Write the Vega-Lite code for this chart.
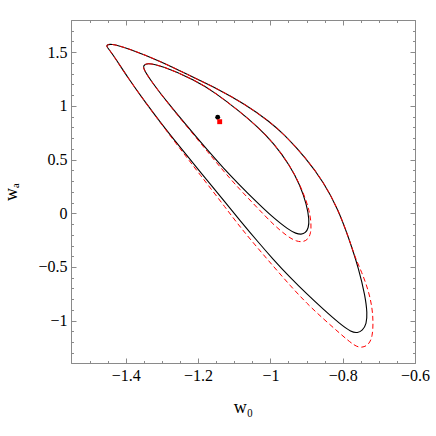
{
  "$schema": "https://vega.github.io/schema/vega-lite/v6.json",
  "width": 344,
  "height": 343,
  "autosize": {"type": "none"},
  "padding": {"left": 71, "top": 20, "right": 21, "bottom": 73},
  "background": "white",
  "config": {
    "view": {"stroke": "#8a8a8a", "strokeWidth": 1},
    "axis": {
      "domainColor": "#8a8a8a",
      "tickColor": "#8a8a8a",
      "grid": false,
      "labelFont": "Liberation Serif",
      "labelFontSize": 16,
      "labelColor": "black",
      "titleFont": "Liberation Serif",
      "titleFontSize": 18,
      "titleFontWeight": "normal",
      "titleColor": "black"
    }
  },
  "datasets": {
    "curves": [
      {"c": "ob", "i": 1, "x": -1.4539, "y": 1.5624},
      {"c": "ob", "i": 2, "x": -1.4437, "y": 1.5829},
      {"c": "ob", "i": 3, "x": -1.3931, "y": 1.5363},
      {"c": "ob", "i": 4, "x": -1.3007, "y": 1.4115},
      {"c": "ob", "i": 5, "x": -1.2086, "y": 1.2570},
      {"c": "ob", "i": 6, "x": -1.1533, "y": 1.1713},
      {"c": "ob", "i": 7, "x": -1.0703, "y": 1.0177},
      {"c": "ob", "i": 8, "x": -1.0011, "y": 0.8501},
      {"c": "ob", "i": 9, "x": -0.9624, "y": 0.7356},
      {"c": "ob", "i": 10, "x": -0.9015, "y": 0.5149},
      {"c": "ob", "i": 11, "x": -0.8531, "y": 0.2914},
      {"c": "ob", "i": 12, "x": -0.8130, "y": 0.0400},
      {"c": "ob", "i": 13, "x": -0.7826, "y": -0.2346},
      {"c": "ob", "i": 14, "x": -0.7549, "y": -0.5233},
      {"c": "ob", "i": 15, "x": -0.7375, "y": -0.7765},
      {"c": "ob", "i": 16, "x": -0.7320, "y": -0.9311},
      {"c": "ob", "i": 17, "x": -0.7342, "y": -1.0307},
      {"c": "ob", "i": 18, "x": -0.7452, "y": -1.0912},
      {"c": "ob", "i": 19, "x": -0.7591, "y": -1.1145},
      {"c": "ob", "i": 20, "x": -0.7757, "y": -1.1080},
      {"c": "ob", "i": 21, "x": -0.8075, "y": -1.0307},
      {"c": "ob", "i": 22, "x": -0.8537, "y": -0.8939},
      {"c": "ob", "i": 23, "x": -0.8996, "y": -0.7505},
      {"c": "ob", "i": 24, "x": -0.9458, "y": -0.5968},
      {"c": "ob", "i": 25, "x": -0.9920, "y": -0.4302},
      {"c": "ob", "i": 26, "x": -1.0379, "y": -0.2523},
      {"c": "ob", "i": 27, "x": -1.0841, "y": -0.0661},
      {"c": "ob", "i": 28, "x": -1.1209, "y": 0.0847},
      {"c": "ob", "i": 29, "x": -1.1948, "y": 0.3883},
      {"c": "ob", "i": 30, "x": -1.2548, "y": 0.6369},
      {"c": "ob", "i": 31, "x": -1.3007, "y": 0.8315},
      {"c": "ob", "i": 32, "x": -1.3469, "y": 1.0382},
      {"c": "ob", "i": 33, "x": -1.3931, "y": 1.2561},
      {"c": "ob", "i": 34, "x": -1.4390, "y": 1.4953},
      {"c": "ob", "i": 35, "x": -1.4520, "y": 1.5484},

      {"c": "or", "i": 1, "x": -1.4539, "y": 1.5624},
      {"c": "or", "i": 2, "x": -1.4437, "y": 1.5829},
      {"c": "or", "i": 3, "x": -1.3931, "y": 1.5363},
      {"c": "or", "i": 4, "x": -1.3007, "y": 1.4115},
      {"c": "or", "i": 5, "x": -1.2086, "y": 1.2570},
      {"c": "or", "i": 6, "x": -1.1533, "y": 1.1713},
      {"c": "or", "i": 7, "x": -1.0703, "y": 1.0177},
      {"c": "or", "i": 8, "x": -1.0011, "y": 0.8501},
      {"c": "or", "i": 9, "x": -0.9624, "y": 0.7356},
      {"c": "or", "i": 10, "x": -0.9015, "y": 0.5149},
      {"c": "or", "i": 11, "x": -0.8531, "y": 0.2914},
      {"c": "or", "i": 12, "x": -0.8130, "y": 0.0400},
      {"c": "or", "i": 13, "x": -0.7826, "y": -0.2346},
      {"c": "or", "i": 14, "x": -0.7674, "y": -0.3976},
      {"c": "or", "i": 15, "x": -0.7474, "y": -0.5472},
      {"c": "or", "i": 16, "x": -0.7300, "y": -0.7062},
      {"c": "or", "i": 17, "x": -0.7189, "y": -0.8638},
      {"c": "or", "i": 18, "x": -0.7154, "y": -1.0121},
      {"c": "or", "i": 19, "x": -0.7176, "y": -1.1518},
      {"c": "or", "i": 20, "x": -0.7286, "y": -1.2263},
      {"c": "or", "i": 21, "x": -0.7466, "y": -1.2523},
      {"c": "or", "i": 22, "x": -0.7660, "y": -1.2402},
      {"c": "or", "i": 23, "x": -0.8075, "y": -1.1192},
      {"c": "or", "i": 24, "x": -0.8537, "y": -0.9823},
      {"c": "or", "i": 25, "x": -0.8996, "y": -0.8389},
      {"c": "or", "i": 26, "x": -0.9458, "y": -0.6713},
      {"c": "or", "i": 27, "x": -0.9920, "y": -0.4926},
      {"c": "or", "i": 28, "x": -1.0379, "y": -0.3128},
      {"c": "or", "i": 29, "x": -1.0841, "y": -0.1266},
      {"c": "or", "i": 30, "x": -1.1209, "y": 0.0382},
      {"c": "or", "i": 31, "x": -1.1948, "y": 0.3603},
      {"c": "or", "i": 32, "x": -1.2548, "y": 0.6229},
      {"c": "or", "i": 33, "x": -1.3007, "y": 0.8268},
      {"c": "or", "i": 34, "x": -1.3469, "y": 1.0382},
      {"c": "or", "i": 35, "x": -1.3931, "y": 1.2561},
      {"c": "or", "i": 36, "x": -1.4390, "y": 1.4953},
      {"c": "or", "i": 37, "x": -1.4520, "y": 1.5484},

      {"c": "ib", "i": 1, "x": -1.3524, "y": 1.3715},
      {"c": "ib", "i": 2, "x": -1.3422, "y": 1.4022},
      {"c": "ib", "i": 3, "x": -1.3007, "y": 1.3743},
      {"c": "ib", "i": 4, "x": -1.2086, "y": 1.2412},
      {"c": "ib", "i": 5, "x": -1.1533, "y": 1.1248},
      {"c": "ib", "i": 6, "x": -1.0841, "y": 0.9460},
      {"c": "ib", "i": 7, "x": -1.0379, "y": 0.8128},
      {"c": "ib", "i": 8, "x": -0.9920, "y": 0.6592},
      {"c": "ib", "i": 9, "x": -0.9458, "y": 0.4451},
      {"c": "ib", "i": 10, "x": -0.9181, "y": 0.2635},
      {"c": "ib", "i": 11, "x": -0.8996, "y": 0.0819},
      {"c": "ib", "i": 12, "x": -0.8924, "y": -0.0624},
      {"c": "ib", "i": 13, "x": -0.8946, "y": -0.1369},
      {"c": "ib", "i": 14, "x": -0.9029, "y": -0.1834},
      {"c": "ib", "i": 15, "x": -0.9148, "y": -0.1974},
      {"c": "ib", "i": 16, "x": -0.9292, "y": -0.1881},
      {"c": "ib", "i": 17, "x": -0.9485, "y": -0.1574},
      {"c": "ib", "i": 18, "x": -0.9970, "y": -0.0270},
      {"c": "ib", "i": 19, "x": -1.0379, "y": 0.1043},
      {"c": "ib", "i": 20, "x": -1.0841, "y": 0.2598},
      {"c": "ib", "i": 21, "x": -1.1303, "y": 0.4227},
      {"c": "ib", "i": 22, "x": -1.1718, "y": 0.5791},
      {"c": "ib", "i": 23, "x": -1.2271, "y": 0.7989},
      {"c": "ib", "i": 24, "x": -1.2824, "y": 1.0223},
      {"c": "ib", "i": 25, "x": -1.3284, "y": 1.2225},
      {"c": "ib", "i": 26, "x": -1.3502, "y": 1.3389},

      {"c": "ir", "i": 1, "x": -1.3524, "y": 1.3715},
      {"c": "ir", "i": 2, "x": -1.3422, "y": 1.4022},
      {"c": "ir", "i": 3, "x": -1.3007, "y": 1.3743},
      {"c": "ir", "i": 4, "x": -1.2086, "y": 1.2412},
      {"c": "ir", "i": 5, "x": -1.1533, "y": 1.1248},
      {"c": "ir", "i": 6, "x": -1.0841, "y": 0.9460},
      {"c": "ir", "i": 7, "x": -1.0379, "y": 0.8128},
      {"c": "ir", "i": 8, "x": -0.9920, "y": 0.6592},
      {"c": "ir", "i": 9, "x": -0.9458, "y": 0.4451},
      {"c": "ir", "i": 10, "x": -0.9181, "y": 0.2635},
      {"c": "ir", "i": 11, "x": -0.9015, "y": 0.1238},
      {"c": "ir", "i": 12, "x": -0.8932, "y": 0.0307},
      {"c": "ir", "i": 13, "x": -0.8871, "y": -0.0810},
      {"c": "ir", "i": 14, "x": -0.8877, "y": -0.1834},
      {"c": "ir", "i": 15, "x": -0.8960, "y": -0.2439},
      {"c": "ir", "i": 16, "x": -0.9098, "y": -0.2672},
      {"c": "ir", "i": 17, "x": -0.9272, "y": -0.2626},
      {"c": "ir", "i": 18, "x": -0.9513, "y": -0.2207},
      {"c": "ir", "i": 19, "x": -0.9920, "y": -0.1052},
      {"c": "ir", "i": 20, "x": -1.0379, "y": 0.0577},
      {"c": "ir", "i": 21, "x": -1.0841, "y": 0.2197},
      {"c": "ir", "i": 22, "x": -1.1303, "y": 0.3948},
      {"c": "ir", "i": 23, "x": -1.1718, "y": 0.5652},
      {"c": "ir", "i": 24, "x": -1.2271, "y": 0.7914},
      {"c": "ir", "i": 25, "x": -1.2824, "y": 1.0196},
      {"c": "ir", "i": 26, "x": -1.3284, "y": 1.2225},
      {"c": "ir", "i": 27, "x": -1.3502, "y": 1.3389}
    ],
    "points": [
      {"name": "black", "x": -1.1458, "y": 0.894},
      {"name": "red", "x": -1.1403, "y": 0.853}
    ]
  },
  "layer": [
    {
      "data": {"name": "curves"},
      "transform": [{"filter": "datum.c == 'ob' || datum.c == 'ib'"}],
      "mark": {"type": "line", "interpolate": "basis-closed", "color": "black", "strokeWidth": 1.1, "clip": true},
      "encoding": {
        "x": {
          "field": "x", "type": "quantitative",
          "scale": {"domain": [-1.5516, -0.6], "nice": false, "zero": false},
          "axis": {
            "orient": "bottom",
            "title": "w₀",
            "values": [-1.5, -1.45, -1.4, -1.35, -1.3, -1.25, -1.2, -1.15, -1.1, -1.05, -1.0, -0.95, -0.9, -0.85, -0.8, -0.75, -0.7, -0.65, -0.6],
            "labelExpr": "abs(datum.value*5 - round(datum.value*5)) < 0.001 ? format(datum.value, '.1~f') : ''",
            "tickSize": {"condition": {"test": "abs(datum.value*5 - round(datum.value*5)) < 0.001", "value": -5}, "value": -2.5},
            "labelPadding": 9,
            "labelOverlap": false,
            "labelFlush": false,
            "titlePadding": 13
          }
        },
        "y": {
          "field": "y", "type": "quantitative",
          "scale": {"domain": [-1.394, 1.8], "nice": false, "zero": false},
          "axis": {
            "orient": "left",
            "title": "wₐ",
            "values": [-1.3, -1.2, -1.1, -1.0, -0.9, -0.8, -0.7, -0.6, -0.5, -0.4, -0.3, -0.2, -0.1, 0, 0.1, 0.2, 0.3, 0.4, 0.5, 0.6, 0.7, 0.8, 0.9, 1.0, 1.1, 1.2, 1.3, 1.4, 1.5, 1.6, 1.7],
            "labelExpr": "abs(datum.value*2 - round(datum.value*2)) < 0.001 ? format(datum.value, '.1~f') : ''",
            "tickSize": {"condition": {"test": "abs(datum.value*2 - round(datum.value*2)) < 0.001", "value": -5}, "value": -2.5},
            "labelPadding": 9,
            "labelOverlap": false,
            "labelFlush": false,
            "titlePadding": 17
          }
        },
        "detail": {"field": "c"},
        "order": {"field": "i", "type": "quantitative"}
      }
    },
    {
      "data": {"name": "curves"},
      "transform": [{"filter": "datum.c == 'or' || datum.c == 'ir'"}],
      "mark": {"type": "line", "interpolate": "basis-closed", "color": "#ff0000", "strokeWidth": 1, "strokeDash": [5, 3], "clip": true},
      "encoding": {
        "x": {
          "field": "x", "type": "quantitative",
          "axis": {
            "orient": "top",
            "title": null,
            "labels": false,
            "values": [-1.5, -1.45, -1.4, -1.35, -1.3, -1.25, -1.2, -1.15, -1.1, -1.05, -1.0, -0.95, -0.9, -0.85, -0.8, -0.75, -0.7, -0.65, -0.6],
            "tickSize": {"condition": {"test": "abs(datum.value*5 - round(datum.value*5)) < 0.001", "value": -5}, "value": -2.5}
          }
        },
        "y": {
          "field": "y", "type": "quantitative",
          "axis": {
            "orient": "right",
            "title": null,
            "labels": false,
            "values": [-1.3, -1.2, -1.1, -1.0, -0.9, -0.8, -0.7, -0.6, -0.5, -0.4, -0.3, -0.2, -0.1, 0, 0.1, 0.2, 0.3, 0.4, 0.5, 0.6, 0.7, 0.8, 0.9, 1.0, 1.1, 1.2, 1.3, 1.4, 1.5, 1.6, 1.7],
            "tickSize": {"condition": {"test": "abs(datum.value*2 - round(datum.value*2)) < 0.001", "value": -5}, "value": -2.5}
          }
        },
        "detail": {"field": "c"},
        "order": {"field": "i", "type": "quantitative"}
      }
    },
    {
      "data": {"name": "points"},
      "mark": {"type": "point", "filled": true, "opacity": 1, "strokeWidth": 0},
      "encoding": {
        "x": {"field": "x", "type": "quantitative", "axis": null},
        "y": {"field": "y", "type": "quantitative", "axis": null},
        "color": {"field": "name", "type": "nominal", "scale": {"domain": ["black", "red"], "range": ["black", "#ff0000"]}, "legend": null},
        "shape": {"field": "name", "type": "nominal", "scale": {"domain": ["black", "red"], "range": ["circle", "square"]}, "legend": null},
        "size": {"value": 24}
      }
    }
  ],
  "resolve": {"axis": {"x": "independent", "y": "independent"}}
}
